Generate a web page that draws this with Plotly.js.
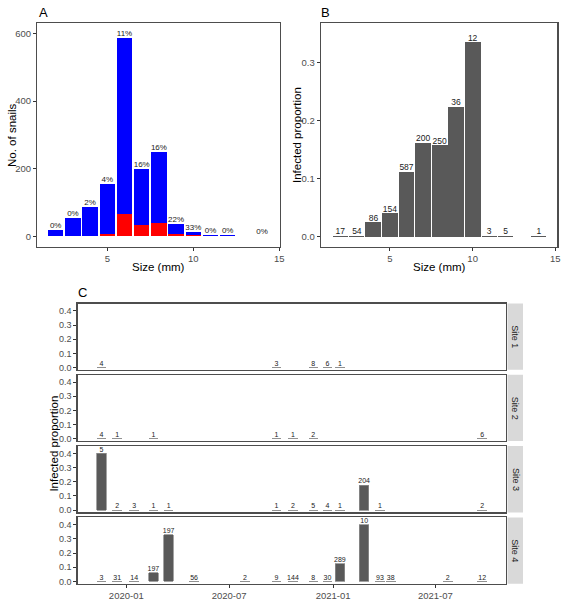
<!DOCTYPE html>
<html>
<head>
<meta charset="utf-8">
<script src="https://cdn.plot.ly/plotly-3.0.1.min.js"></script>
<style>html,body{margin:0;padding:0;background:#fff}#chart{width:567px;height:600px}</style>
</head>
<body>
<div id="chart"></div>
<script>
// ---------- Panel A / B data: size classes ----------
const sizeClasses = [2, 3, 4, 5, 6, 7, 8, 9, 10, 11, 12, 14];
const totalSnails = [17, 54, 86, 154, 587, 200, 250, 36, 12, 3, 5, 1];
const infectedSnails = [0, 0, 2, 6, 65, 32, 39, 8, 4, 0, 0, 0];

// ---------- Panel C data: sampling dates per site ----------
const site1Dates = ['2019-11-18', '2020-09-23', '2020-11-27', '2020-12-22', '2021-01-13'];
const site1N = [4, 3, 8, 6, 1];
const site1Prop = [0, 0, 0, 0, 0];

const site2Dates = ['2019-11-18', '2019-12-16', '2020-02-18', '2020-09-23', '2020-10-22', '2020-11-27', '2021-09-22'];
const site2N = [4, 1, 1, 1, 1, 2, 6];
const site2Prop = [0, 0, 0, 0, 0, 0, 0];

const site3Dates = ['2019-11-18', '2019-12-16', '2020-01-15', '2020-02-18', '2020-03-16', '2020-09-23', '2020-10-22',
  '2020-11-27', '2020-12-22', '2021-01-13', '2021-02-25', '2021-03-25', '2021-09-22'];
const site3N = [5, 2, 3, 1, 1, 1, 2, 5, 4, 1, 204, 1, 2];
const site3Prop = [0.4, 0, 0, 0, 0, 0, 0, 0, 0, 0, 0.176, 0, 0];

const site4Dates = ['2019-11-18', '2019-12-16', '2020-01-15', '2020-02-18', '2020-03-16', '2020-04-30', '2020-07-29',
  '2020-09-23', '2020-10-22', '2020-11-27', '2020-12-22', '2021-01-13', '2021-02-25', '2021-03-25', '2021-04-13',
  '2021-07-23', '2021-09-22'];
const site4N = [3, 31, 14, 197, 197, 56, 2, 9, 144, 8, 30, 289, 10, 93, 38, 2, 12];
const site4Prop = [0, 0, 0, 0.061, 0.33, 0, 0, 0, 0, 0, 0, 0.125, 0.4, 0, 0, 0, 0];

const siteNames = ['Site 1', 'Site 2', 'Site 3', 'Site 4'];
const dateTickVals = ['2020-01-01', '2020-07-01', '2021-01-01', '2021-07-01'];
const dateTickText = ['2020-01', '2020-07', '2021-01', '2021-07'];

// ---------- helpers ----------
const W = 567, H = 600;
const px = v => v / W;
const py = v => 1 - v / H;
const FONT = 'Liberation Sans, Arial, sans-serif';
const tickCol = '#4d4d4d';
const lineCol = '#4d4d4d';

const uninfected = totalSnails.map((t, i) => t - infectedSnails[i]);
const pctLabels = totalSnails.map((t, i) => Math.round(100 * infectedSnails[i] / t) + '%');
const propB = totalSnails.map((t, i) => infectedSnails[i] / t);

const traces = [];
// Panel A
traces.push({type: 'bar', x: sizeClasses, y: infectedSnails, width: 0.9, xaxis: 'x', yaxis: 'y',
  marker: {color: '#ff0000', line: {width: 0}}, showlegend: false, hoverinfo: 'skip'});
traces.push({type: 'bar', x: sizeClasses, y: uninfected, width: 0.9, xaxis: 'x', yaxis: 'y',
  marker: {color: '#0000ff', line: {width: 0}}, showlegend: false, hoverinfo: 'skip'});
traces.push({type: 'scatter', mode: 'text', x: sizeClasses, y: totalSnails, text: pctLabels,
  textposition: 'top center', textfont: {family: FONT, size: 8, color: '#222'},
  xaxis: 'x', yaxis: 'y', cliponaxis: false, showlegend: false, hoverinfo: 'skip'});
// Panel B
traces.push({type: 'bar', x: sizeClasses, y: propB, width: 0.9, xaxis: 'x2', yaxis: 'y2',
  marker: {color: '#595959', line: {color: '#595959', width: 1}}, showlegend: false, hoverinfo: 'skip'});
traces.push({type: 'scatter', mode: 'text', x: sizeClasses, y: propB, text: totalSnails.map(String),
  textposition: 'top center', textfont: {family: FONT, size: 8.5, color: '#222'},
  xaxis: 'x2', yaxis: 'y2', cliponaxis: false, showlegend: false, hoverinfo: 'skip'});

// Panel C
const sites = [
  [site1Dates, site1N, site1Prop],
  [site2Dates, site2N, site2Prop],
  [site3Dates, site3N, site3Prop],
  [site4Dates, site4N, site4Prop]
];
const barW = 17 * 86400000;
sites.forEach((s, k) => {
  const xa = 'x' + (k + 3), ya = 'y' + (k + 3);
  traces.push({type: 'bar', x: s[0], y: s[2], width: barW, xaxis: xa, yaxis: ya,
    marker: {color: '#595959', line: {color: '#8c8c8c', width: 0.8}}, showlegend: false, hoverinfo: 'skip'});
  traces.push({type: 'scatter', mode: 'text', x: s[0], y: s[2], text: s[1].map(String),
    textposition: 'top center', textfont: {family: FONT, size: 7, color: '#222'},
    xaxis: xa, yaxis: ya, cliponaxis: false, showlegend: false, hoverinfo: 'skip'});
});

const axBase = {
  showline: true, mirror: true, linecolor: lineCol, linewidth: 1.3,
  showgrid: false, zeroline: false, ticks: 'outside', ticklen: 3, tickwidth: 1, tickcolor: '#333',
  tickfont: {family: FONT, size: 9.5, color: tickCol}, fixedrange: true
};

const layout = {
  width: W, height: H, margin: {l: 0, r: 0, t: 0, b: 0},
  paper_bgcolor: '#fff', plot_bgcolor: '#fff', barmode: 'stack', bargap: 0,
  font: {family: FONT},
  xaxis: Object.assign({}, axBase, {domain: [px(37.3), px(280)], range: [0.93, 15.04], anchor: 'y',
    tickvals: [5, 10, 15]}),
  yaxis: Object.assign({}, axBase, {domain: [py(246.7), py(23.3)], range: [-31, 630], anchor: 'x',
    tickvals: [0, 200, 400, 600]}),
  xaxis2: Object.assign({}, axBase, {domain: [px(321), px(557.3)], range: [0.83, 15.12], anchor: 'y2',
    tickvals: [5, 10, 15]}),
  yaxis2: Object.assign({}, axBase, {domain: [py(246.7), py(23.3)], range: [-0.018, 0.367], anchor: 'x2',
    tickvals: [0, 0.1, 0.2, 0.3], tickformat: '.1f'}),
  annotations: [], shapes: []
};

const cTop = 303.5, cH = 66.3, cGap = 5;
for (let k = 0; k < 4; k++) {
  const top = cTop + k * (cH + cGap), bot = top + cH;
  const xa = 'xaxis' + (k + 3), ya = 'yaxis' + (k + 3);
  const isBottom = k === 3;
  layout[xa] = Object.assign({}, axBase, {
    domain: [px(77.7), px(506)], range: ['2019-10-07', '2021-11-03'], type: 'date',
    anchor: 'y' + (k + 3), tickvals: dateTickVals, ticktext: dateTickText,
    ticks: isBottom ? 'outside' : '', showticklabels: isBottom,
    tickfont: {family: FONT, size: 9.5, color: tickCol}
  });
  if (!isBottom) layout[xa].matches = 'x6';
  layout[ya] = Object.assign({}, axBase, {
    domain: [py(bot), py(top)], range: [-0.016, 0.452], anchor: 'x' + (k + 3),
    tickvals: [0, 0.1, 0.2, 0.3, 0.4], tickformat: '.1f', tickfont: {family: FONT, size: 9, color: tickCol}
  });
  layout.shapes.push({type: 'rect', xref: 'paper', yref: 'paper', x0: px(507.5), x1: px(523),
    y0: py(bot), y1: py(top), fillcolor: '#d9d9d9', line: {width: 0}, layer: 'below'});
  layout.annotations.push({xref: 'paper', yref: 'paper', x: px(515.3), y: py((top + bot) / 2),
    text: siteNames[k], textangle: 90, showarrow: false, xanchor: 'center', yanchor: 'middle',
    font: {family: FONT, size: 9, color: '#1a1a1a'}});
}

const ann = (x, y, text, size, angle, extra) => Object.assign({xref: 'paper', yref: 'paper', x: px(x), y: py(y), text: text,
  showarrow: false, xanchor: 'center', yanchor: 'middle', textangle: angle || 0,
  font: {family: FONT, size: size, color: '#000'}}, extra || {});
layout.annotations.push(ann(43, 12, 'A', 13));
layout.annotations.push(ann(325, 12, 'B', 13));
layout.annotations.push(ann(82, 292, 'C', 13));
layout.annotations.push(ann(158.6, 267, 'Size (mm)', 11.5));
layout.annotations.push(ann(439, 267, 'Size (mm)', 11.5));
layout.annotations.push(ann(12, 135, 'No. of snails', 11.5, -90));
layout.annotations.push(ann(297, 135, 'Infected proportion', 11.5, -90));
layout.annotations.push(ann(54, 443.6, 'Infected proportion', 11.5, -90));

Plotly.newPlot('chart', traces, layout, {staticPlot: true, displayModeBar: false});
</script>
</body>
</html>
